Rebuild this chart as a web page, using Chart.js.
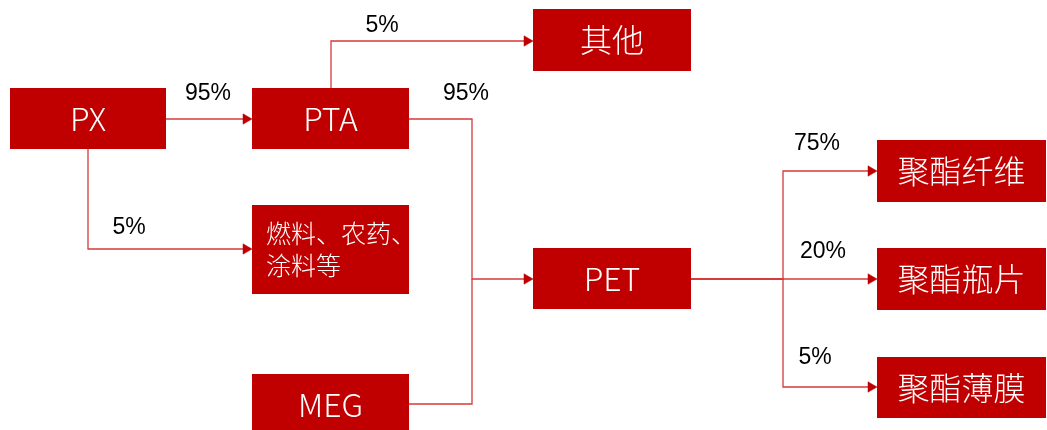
<!DOCTYPE html>
<html lang="zh">
<head>
<meta charset="utf-8">
<title>PX-PTA-PET 产业链</title>
<script src="https://cdn.jsdelivr.net/npm/chart.js"></script>
<style>
    html, body { margin: 0; padding: 0; background: #fff; }
    .chart-container { position: relative; width: 1047px; height: 430px; }
</style>
</head>
<body>
<div class="chart-container">
    <canvas id="chart"></canvas>
</div>
<script>
// 节点名称
var nodeNames = ["PX", "PTA", "其他", "燃料、农药、\n涂料等", "MEG", "PET", "聚酯纤维", "聚酯瓶片", "聚酯薄膜"];

// 流向: 起点、终点、占比(%)
var flowFrom  = ["PX",  "PX",               "PTA",  "PTA", "MEG", "PET",     "PET",     "PET"];
var flowTo    = ["PTA", "燃料、农药、\n涂料等", "其他", "PET", "PET", "聚酯纤维", "聚酯瓶片", "聚酯薄膜"];
var flowShare = [95,    5,                  5,      95,    null,  75,        20,        5];

// 版面: 方框位置 (坐标单位与画布一致)
var boxLayout = {
    "PX":                 { x: 10,  y: 88,  w: 156, h: 61, size: 32 },
    "PTA":                { x: 252, y: 88,  w: 157, h: 61, size: 32 },
    "其他":               { x: 533, y: 9,   w: 158, h: 62, size: 32 },
    "燃料、农药、\n涂料等": { x: 252, y: 205, w: 157, h: 89, size: 25, left: true },
    "MEG":                { x: 252, y: 374, w: 157, h: 62, size: 32 },
    "PET":                { x: 533, y: 248, w: 158, h: 61, size: 32 },
    "聚酯纤维":           { x: 877, y: 140, w: 169, h: 62, size: 32 },
    "聚酯瓶片":           { x: 877, y: 248, w: 169, h: 62, size: 32 },
    "聚酯薄膜":           { x: 877, y: 357, w: 169, h: 61, size: 32 }
};

// 版面: 连线走向与百分比文字位置, 顺序与 flowFrom 一致
var routeLayout = [
    { path: [[166, 119], [252, 119]],                         label: [208, 94],  arrow: true },
    { path: [[88, 149], [88, 249], [252, 249]],               label: [129, 228], arrow: true },
    { path: [[331, 88], [331, 41], [533, 41]],                label: [382, 26],  arrow: true },
    { path: [[409, 119], [472, 119], [472, 279], [533, 279]], label: [466, 94],  arrow: true },
    { path: [[409, 404], [472, 404], [472, 279]],             label: null,       arrow: false },
    { path: [[691, 279], [783, 279], [783, 171], [877, 171]], label: [817, 144], arrow: true },
    { path: [[691, 279], [877, 279]],                         label: [823, 252], arrow: true },
    { path: [[691, 279], [783, 279], [783, 387], [877, 387]], label: [815, 358], arrow: true }
];

var RED = "#c00000";
var LINE = "#d43a3a";
var ARROW_R = 6;

// 连线用折线数据集, 箭头用三角形点; 终点左移使箭头尖端正好碰到方框
var datasets = routeLayout.map(function (r, i) {
    var pts = r.path.map(function (p) { return { x: p[0], y: p[1] }; });
    var last = pts.length - 1;
    if (r.arrow) pts[last].x -= ARROW_R;
    return {
        type: "line",
        label: flowFrom[i] + "→" + flowTo[i],
        data: pts,
        borderColor: LINE,
        borderWidth: 1.3,
        backgroundColor: RED,
        pointBackgroundColor: RED,
        pointBorderColor: RED,
        pointBorderWidth: 0.5,
        pointStyle: "triangle",
        rotation: 90,
        pointRadius: function (ctx) { return (r.arrow && ctx.dataIndex === last) ? ARROW_R : 0; },
        pointHoverRadius: 0,
        tension: 0,
        fill: false,
        clip: false
    };
});

// 方框和文字
var flowPlugin = {
    id: "flowBoxes",
    beforeDatasetsDraw: function (chart) {
        var ctx = chart.ctx;
        var xs = chart.scales.x, ys = chart.scales.y;
        ctx.save();
        nodeNames.forEach(function (name) {
            var b = boxLayout[name];
            var x0 = xs.getPixelForValue(b.x), x1 = xs.getPixelForValue(b.x + b.w);
            var y0 = ys.getPixelForValue(b.y), y1 = ys.getPixelForValue(b.y + b.h);
            ctx.fillStyle = RED;
            ctx.fillRect(x0, y0, x1 - x0, y1 - y0);
            ctx.fillStyle = "#fff";
            ctx.font = "300 " + b.size + "px 'Noto Sans CJK SC', 'Noto Sans', sans-serif";
            ctx.textBaseline = "middle";
            var lines = name.split("\n");
            var lh = b.size * 1.25;
            var cy = (y0 + y1) / 2 - (lines.length - 1) * lh / 2;
            lines.forEach(function (t, k) {
                if (b.left) {
                    ctx.textAlign = "left";
                    ctx.fillText(t, x0 + 14, cy + k * lh);
                } else {
                    ctx.textAlign = "center";
                    ctx.fillText(t, (x0 + x1) / 2, cy + k * lh);
                }
            });
        });
        // 百分比
        ctx.fillStyle = "#000";
        ctx.font = "23px 'Liberation Sans', Arial, sans-serif";
        ctx.textAlign = "center";
        ctx.textBaseline = "middle";
        routeLayout.forEach(function (r, i) {
            if (!r.label || flowShare[i] == null) return;
            ctx.fillText(flowShare[i] + "%", xs.getPixelForValue(r.label[0]), ys.getPixelForValue(r.label[1]));
        });
        ctx.restore();
    }
};

var chart = new Chart(document.getElementById("chart"), {
    type: "scatter",
    data: { datasets: datasets },
    options: {
        responsive: true,
        maintainAspectRatio: false,
        animation: false,
        layout: { padding: 0, autoPadding: false },
        plugins: { legend: { display: false }, tooltip: { enabled: false } },
        events: [],
        scales: {
            x: { type: "linear", min: 0, max: 1047, display: false },
            y: { type: "linear", min: 0, max: 430, reverse: true, display: false }
        }
    },
    plugins: [flowPlugin]
});
</script>
</body>
</html>
